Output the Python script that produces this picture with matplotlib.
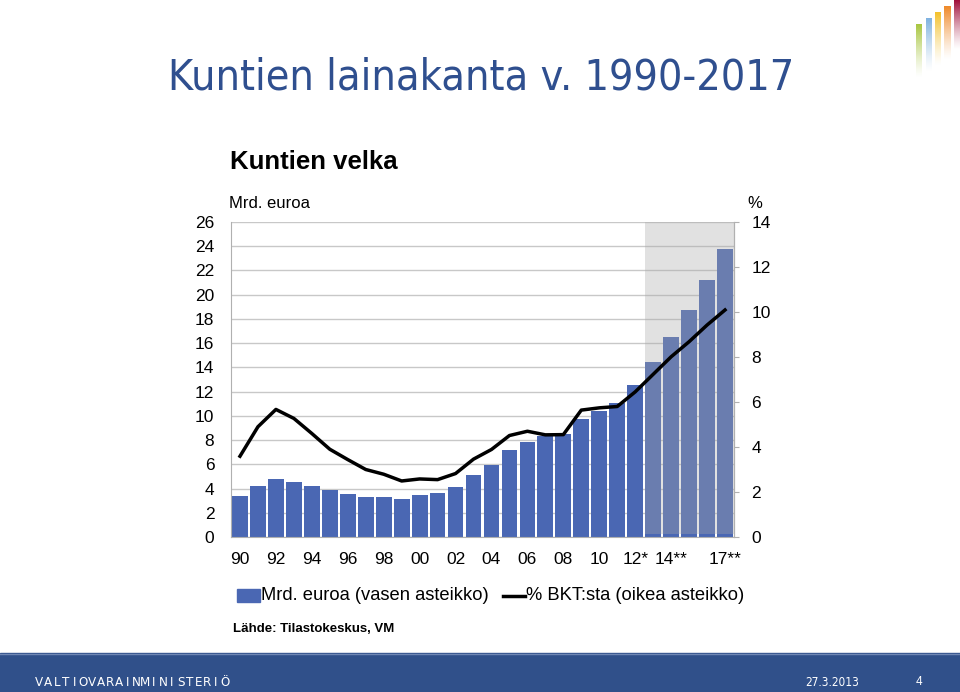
import numpy as np
import matplotlib
matplotlib.use("Agg")
import matplotlib.pyplot as plt
from matplotlib.patches import Rectangle
from matplotlib.lines import Line2D
from matplotlib import font_manager

# Data
years = list(range(1990, 2018))
debt_bn = [3.36, 4.24, 4.79, 4.52, 4.19, 3.86, 3.55, 3.31, 3.33, 3.14,
           3.50, 3.64, 4.16, 5.10, 5.98, 7.19, 7.85, 8.32, 8.54, 9.78,
           10.36, 11.10, 12.53, 14.44, 16.53, 18.76, 21.21, 23.75]
debt_gdp = [3.59, 4.90, 5.67, 5.27, 4.60, 3.90, 3.44, 3.00, 2.79, 2.49,
            2.58, 2.55, 2.82, 3.46, 3.89, 4.51, 4.70, 4.54, 4.55, 5.64,
            5.74, 5.80, 6.45, 7.23, 8.01, 8.68, 9.42, 10.09]
tick_years = [1990, 1992, 1994, 1996, 1998, 2000, 2002, 2004, 2006, 2008,
              2010, 2012, 2014, 2017]
tick_labels = ["90", "92", "94", "96", "98", "00", "02", "04", "06", "08",
               "10", "12*", "14**", "17**"]
forecast_start = 2013

W, H = 960, 692
BAR = "#4a67b3"
TITLE = "#2f4f8f"

plt.rcParams["font.family"] = ["Liberation Sans", "DejaVu Sans"]

# pick a narrow face if one is installed
narrow = dict(family=["Liberation Sans", "DejaVu Sans"])
fp = font_manager.FontProperties(family="DejaVu Sans", stretch="condensed")
if "Condensed" in font_manager.findfont(fp, fallback_to_default=False):
    narrow = dict(family=["DejaVu Sans"], stretch="condensed")

fig = plt.figure(figsize=(W / 100, H / 100), dpi=100)

# background layer in pixel coordinates
bg = fig.add_axes([0, 0, 1, 1], zorder=-1)
bg.set_xlim(0, W)
bg.set_ylim(H, 0)
bg.axis("off")

# title, sized to the width it has in the slide
title = bg.text(168, 78, "Kuntien lainakanta v. 1990-2017", fontsize=40,
                color=TITLE, ha="left", va="center", **narrow)
r = fig.canvas.get_renderer()
wpx = title.get_window_extent(r).width
title.set_fontsize(40 * 625 / wpx)

bg.text(230, 162, "Kuntien velka", fontsize=18.5, fontweight="bold",
        ha="left", va="center")
bg.text(229, 203, "Mrd. euroa", fontsize=12, ha="left", va="center")
bg.text(747, 203, "%", fontsize=12, ha="left", va="center")
bg.text(233, 629, "Lähde: Tilastokeskus, VM", fontsize=9.5, fontweight="bold",
        ha="left", va="center")

# legend drawn by hand
bg.add_patch(Rectangle((237, 589), 23, 13, color=BAR))
bg.text(261, 596, "Mrd. euroa (vasen asteikko)", fontsize=13.2,
        ha="left", va="center")
bg.add_line(Line2D([503, 525], [596, 596], color="black", lw=2.5))
bg.text(526, 596, "% BKT:sta (oikea asteikko)", fontsize=13.2,
        ha="left", va="center")

# footer band
bg.add_patch(Rectangle((0, 653), W, 39, color="#30508a"))
bg.add_line(Line2D([0, W], [653.5, 653.5], color="#6f87b4", lw=1))
name = "VALTIOVARAINMINISTERIÖ"
x = 39
for ch in name:
    bg.text(x, 682, ch, fontsize=9.5, color="white", ha="center", va="center",
            **narrow)
    x += 8.85
bg.text(805, 682, "27.3.2013", fontsize=8.5, color="white",
        ha="left", va="center", **narrow)
bg.text(916, 682, "4", fontsize=8.5, color="white", ha="left", va="center")

# logo: fading vertical bars
logo = [((916, 922), 24, 78, (0.66, 0.78, 0.25)),
        ((926, 932), 18, 72, (0.50, 0.70, 0.88)),
        ((935, 941), 12, 66, (0.96, 0.76, 0.17)),
        ((944, 951), 6, 60, (0.94, 0.54, 0.16)),
        ((954, 960), 0, 50, (0.63, 0.06, 0.23))]
for (x0, x1), y0, y1, c in logo:
    n = 64
    img = np.ones((n, 1, 4))
    img[:, 0, :3] = c
    img[:, 0, 3] = np.linspace(1, 0, n) ** 1.3
    bg.imshow(img, extent=(x0, x1, y1, y0), aspect="auto", interpolation="bilinear")
bg.set_xlim(0, W)
bg.set_ylim(H, 0)

# main chart
ax = fig.add_axes([231 / W, 1 - 537 / H, 503 / W, 315 / H])
idx = np.arange(len(years))
ax.bar(idx, debt_bn, width=0.88, color=BAR, zorder=2)
ax.set_xlim(-0.5, len(years) - 0.5)
ax.set_ylim(0, 26)
ax.set_yticks(range(0, 27, 2))
ax.grid(axis="y", color="#c8c8c8", lw=1, zorder=0)
ax.set_axisbelow(True)
ax.set_xticks([years.index(y) for y in tick_years])
ax.set_xticklabels(tick_labels)
ax.tick_params(axis="x", length=0, pad=11, labelsize=12.5)
ax.tick_params(axis="y", length=0, pad=12, labelsize=12.5)
for s in ax.spines.values():
    s.set_color("#b0b0b0")
ax.spines["top"].set_visible(False)

# forecast shading over the bars
fs = years.index(forecast_start) - 0.44
ax.add_patch(Rectangle((fs, 0.25), len(years) - 0.5 - fs, 25.75,
                       facecolor=(168 / 255, 168 / 255, 168 / 255), alpha=0.34,
                       lw=0, zorder=3))

ax2 = ax.twinx()
ax2.plot(idx, debt_gdp, color="black", lw=2.5, zorder=4)
ax2.set_ylim(0, 14)
ax2.set_yticks(range(0, 15, 2))
ax2.tick_params(axis="y", length=3.6, color="#b0b0b0", pad=9, labelsize=12.5)
for s in ax2.spines.values():
    s.set_visible(False)
ax2.spines["right"].set_visible(True)
ax2.spines["right"].set_color("#b0b0b0")

fig.savefig("out.png", dpi=100)
